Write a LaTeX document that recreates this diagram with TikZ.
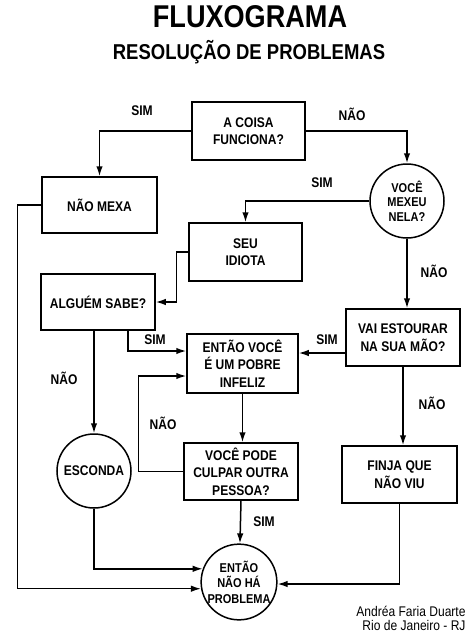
\documentclass[tikz,border=0pt]{standalone}
\usepackage{fontspec}
\setmainfont[FakeStretch=0.86]{Liberation Sans}
\usetikzlibrary{arrows.meta,calc}
\begin{document}
\begin{tikzpicture}[x=1pt,y=-1pt,
  box/.style={draw,line width=1.5pt,inner sep=0pt,align=center,font=\bfseries\fontsize{14}{17.5}\selectfont},
  rbox/.style={draw,circle,line width=1.5pt,inner sep=0pt,align=center,font=\bfseries\fontsize{12.8}{14.5}\selectfont},
  arr/.style={line width=1.5pt,-{Latex[length=10pt,width=6.5pt]}},
  lbl/.style={font=\bfseries\fontsize{14}{16}\selectfont,inner sep=0pt},
  author/.style={font=\fontsize{14}{16}\selectfont,inner sep=0pt},
]
\useasboundingbox (0,0) rectangle (474,640);
% titles
\node[font=\bfseries\fontsize{31.5}{34}\selectfont,inner sep=0pt] (title) at (250,17) {FLUXOGRAMA};
\node[font=\bfseries\fontsize{21.5}{24}\selectfont,inner sep=0pt] (subtitle) at (249,52) {RESOLUÇÃO DE PROBLEMAS};
% nodes
\node[box,minimum width=113pt,minimum height=58pt] (coisa) at (248.5,131) {A COISA\\FUNCIONA?};
\node[box,minimum width=115pt,minimum height=56pt] (mexa) at (99.5,205) {NÃO MEXA};
\node[rbox,minimum size=74pt] (mexeu) at (407,201) {VOCÊ\\MEXEU\\NELA?};
\node[box,minimum width=113pt,minimum height=58pt] (idiota) at (245.5,252) {SEU\\IDIOTA};
\node[box,minimum width=114pt,minimum height=56pt] (alguem) at (98,302) {ALGUÉM SABE?};
\node[box,minimum width=111pt,minimum height=59pt] (entao) at (242.5,363.5) {ENTÃO VOCÊ\\É UM POBRE\\INFELIZ};
\node[box,minimum width=114pt,minimum height=57pt] (vai) at (403,337.5) {VAI ESTOURAR\\NA SUA MÃO?};
\node[rbox,minimum size=74pt,font=\bfseries\fontsize{14}{16}\selectfont] (esconda) at (94,471) {ESCONDA};
\node[box,minimum width=114pt,minimum height=57pt] (pode) at (241,471.5) {VOCÊ PODE\\CULPAR OUTRA\\PESSOA?};
\node[box,minimum width=115pt,minimum height=57pt] (finja) at (399.5,474.5) {FINJA QUE\\NÃO VIU};
\node[rbox,minimum size=72pt,font=\bfseries\fontsize{12.8}{15.5}\selectfont] (fim) at (239,582) {ENTÃO\\NÃO HÁ\\PROBLEMA};
% connectors
\draw[arr] (coisa.west) -| (mexa.north);
\draw[arr] (coisa.east) -| (mexeu.north);
\draw[arr] (mexeu.west) -| (idiota.north);
\draw[arr] (idiota.west) -- ++(-12,0) |- (alguem.east);
\draw[arr] ([xshift=30pt]alguem.south) |- ([yshift=12.5pt]entao.west);
\draw[arr] (alguem.south -| esconda.north) -- (esconda.north);
\draw[arr] ([yshift=-15.5pt]vai.west) -- ([yshift=10.5pt]entao.east);
\draw[arr] (mexeu.south) -- (mexeu.south |- vai.north);
\draw[arr] (vai.south) -- (vai.south |- finja.north);
\draw[arr] (entao.south) -- (entao.south |- pode.north);
\draw[arr] (pode.west) -- ++(-45,0) |- ([yshift=-12.5pt]entao.west);
\draw[arr] (pode.south) -- (fim);
\draw[arr] (esconda.south) |- (fim.160);
\draw[arr] (mexa.west) -- ++(-24,0) |- (fim.190);
\draw[arr] (finja.south) |- (fim.357);
% labels
\node[lbl] (l1) at (142,111) {SIM};
\node[lbl] (l2) at (352,114) {NÃO};
\node[lbl] (l3) at (322,183) {SIM};
\node[lbl] (l4) at (434,271) {NÃO};
\node[lbl] (l5) at (155,340) {SIM};
\node[lbl] (l6) at (327,340) {SIM};
\node[lbl] (l7) at (64,378) {NÃO};
\node[lbl] (l8) at (432,403) {NÃO};
\node[lbl] (l9) at (163,423) {NÃO};
\node[lbl] (l10) at (264,522) {SIM};
% author
\node[author] (a1) at (411,611) {Andréa Faria Duarte};
\node[author] (a2) at (414,625) {Rio de Janeiro - RJ};
\end{tikzpicture}
\end{document}
